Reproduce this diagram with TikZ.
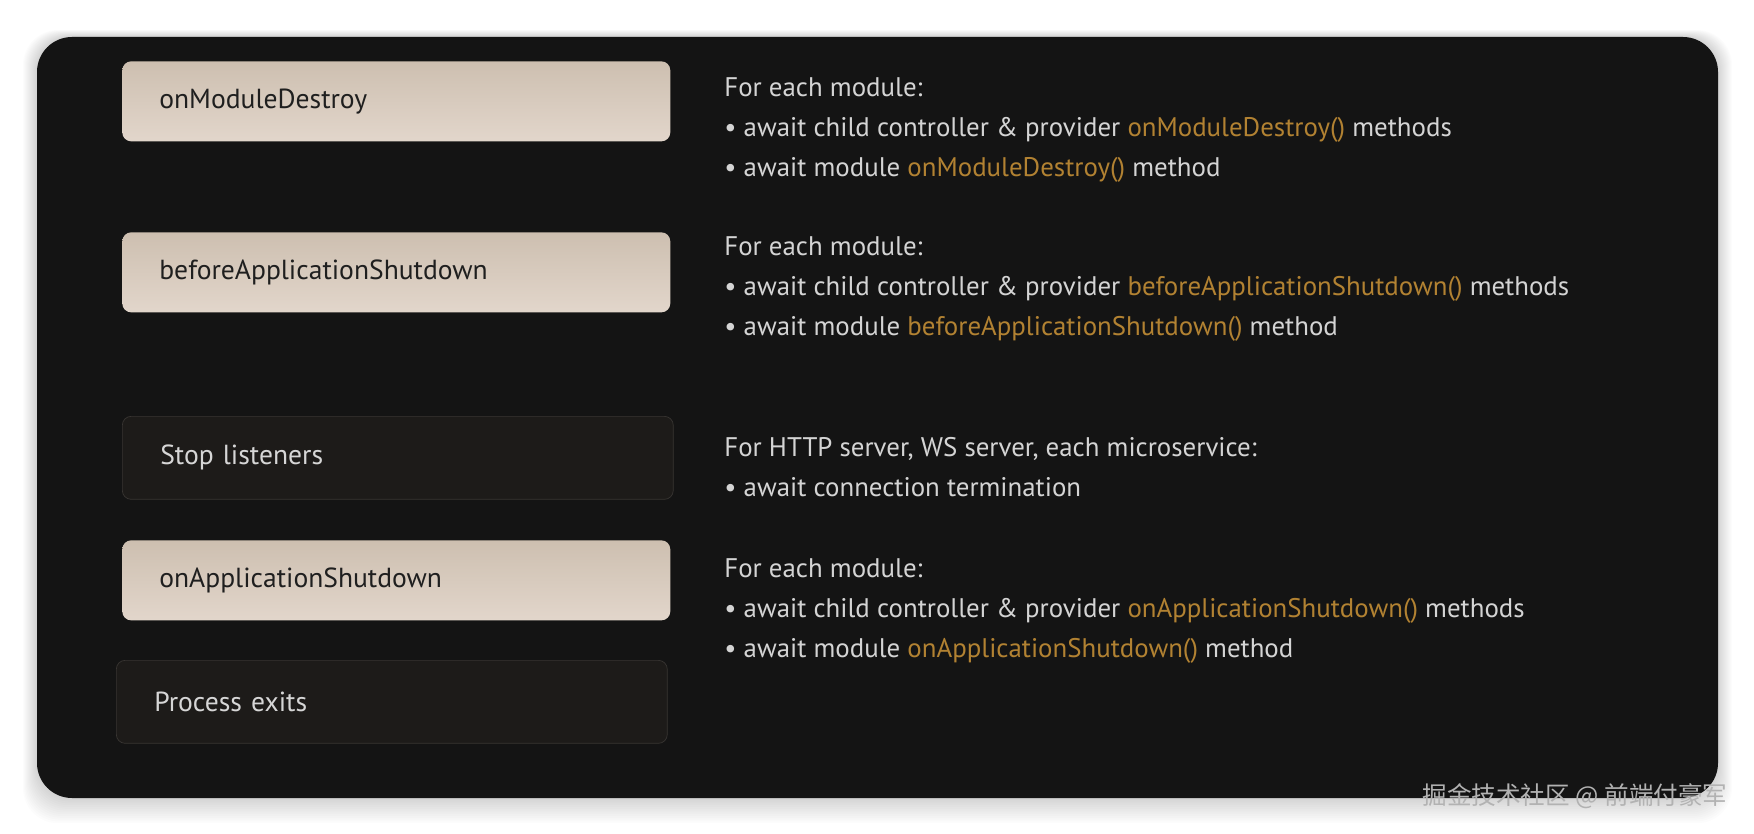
\documentclass[tikz,border=0pt]{standalone}
\usepackage{fontspec}
\setmainfont{PT Sans}
\newfontfamily\cjk{Noto Sans CJK SC}
\usetikzlibrary{positioning}
\definecolor{panelbg}{RGB}{20,20,20}
\definecolor{hookorange}{RGB}{178,130,50}
\definecolor{sandtop}{RGB}{205,191,176}
\definecolor{sandbot}{RGB}{226,214,203}
\definecolor{softwhite}{RGB}{212,212,212}
\definecolor{darkbox}{RGB}{29,27,25}
\definecolor{darkedge}{RGB}{56,53,50}
\newcommand{\hook}[1]{\textcolor{hookorange}{#1}}

\begin{document}
\begin{tikzpicture}[
    x=0.02cm, y=-0.02cm,
    hookbox/.style={rectangle, rounded corners=5pt, top color=sandtop, bottom color=sandbot, minimum width=10.96cm, minimum height=1.6cm, text width=9.48cm, inner xsep=0.74cm, align=left, anchor=north west, font=\fontsize{15.7}{18}\selectfont, text=black!88},
    stepbox/.style={rectangle, rounded corners=5pt, draw=darkedge, fill=darkbox, minimum width=11.02cm, minimum height=1.66cm, text width=9.5cm, inner xsep=0.76cm, align=left, anchor=north west, font=\fontsize{15.7}{18}\selectfont, text=softwhite!95},
    desc/.style={anchor=north west, align=left, inner sep=0pt, text=softwhite, font=\fontsize{15.3}{22.8}\selectfont}
]
    % page and panel
    \useasboundingbox[fill=white] (0,0) rectangle (1754,834);
    \foreach \s in {1,...,14}
        \fill[black, opacity=0.012, rounded corners=0.7cm] (37-\s,37-0.5*\s) rectangle (1718+\s,798+1.8*\s);
    \fill[panelbg, rounded corners=0.7cm] (37,37) rectangle (1718,798);

    % Lifecycle steps
    \node[hookbox] (destroy) at (122,61) {onModuleDestroy};
    \node[hookbox] (before) at (122,232) {beforeApplicationShutdown};
    \node[stepbox] (listen) at (122,416) {Stop listeners};
    \node[hookbox] (appshut) at (122,540) {onApplicationShutdown};
    \node[stepbox] (exits) at (116,660) {Process exits};

    % What happens at each step
    \node[desc] (destroytxt) at (724,77) {For each module:\\
        \textbullet\ await child controller \& provider \hook{onModuleDestroy()} methods\\
        \textbullet\ await module \hook{onModuleDestroy()} method};
    \node[desc] (beforetxt) at (724,236) {For each module:\\
        \textbullet\ await child controller \& provider \hook{beforeApplicationShutdown()} methods\\
        \textbullet\ await module \hook{beforeApplicationShutdown()} method};
    \node[desc] (listentxt) at (724,437) {For HTTP server, WS server, each microservice:\\
        \textbullet\ await connection termination};
    \node[desc] (appshuttxt) at (724,558) {For each module:\\
        \textbullet\ await child controller \& provider \hook{onApplicationShutdown()} methods\\
        \textbullet\ await module \hook{onApplicationShutdown()} method};

    % watermark
    \node[font=\cjk\fontsize{14}{16}\selectfont, text=black!30] (mark) at (1575,796) {掘金技术社区 @ 前端付豪军};
\end{tikzpicture}
\end{document}
